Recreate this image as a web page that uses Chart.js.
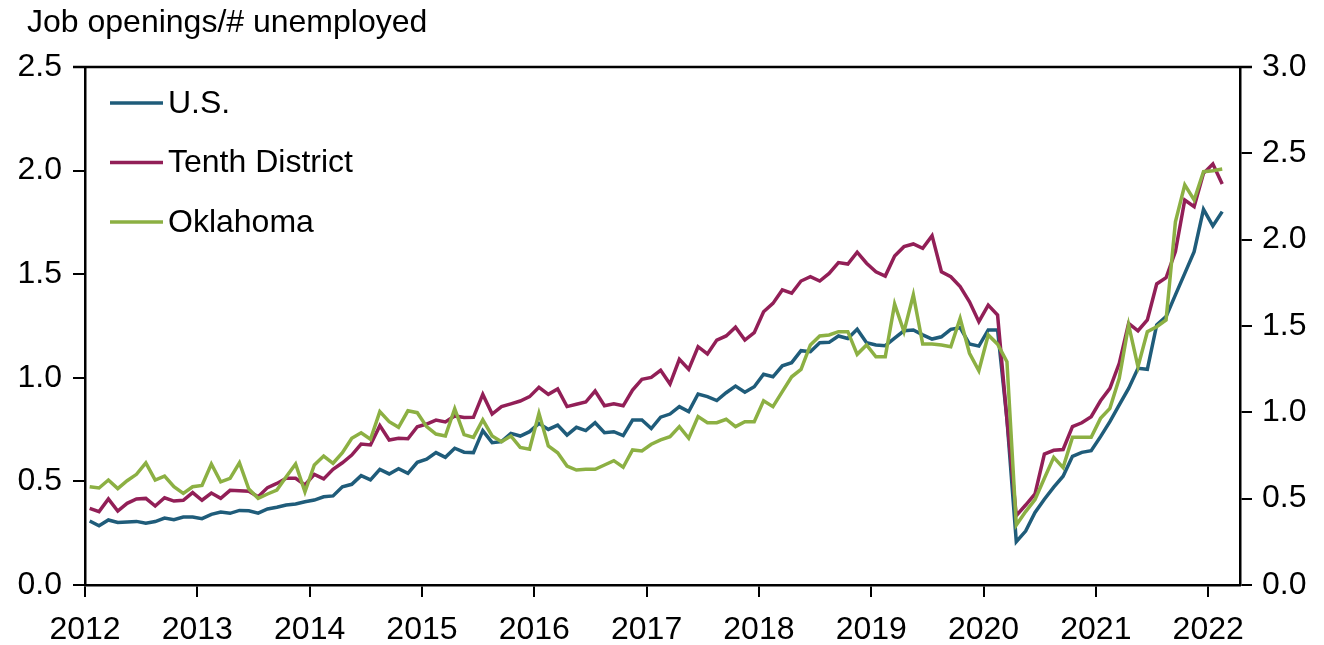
<!DOCTYPE html>
<html>
<head>
<meta charset="utf-8">
<script src="https://cdn.jsdelivr.net/npm/chart.js@4.4.1/dist/chart.umd.min.js"></script>
<style>
  html, body { margin: 0; padding: 0; background: #fff; }
  #wrap { width: 1324px; height: 645px; position: relative; }
</style>
</head>
<body>
<div id="wrap"><canvas id="chart"></canvas></div>
<script>
// ---- data (monthly, Jan 2012 - Feb 2022) ----
const startYear = 2012;
const yearTicks = [2012, 2013, 2014, 2015, 2016, 2017, 2018, 2019, 2020, 2021, 2022];
const leftTicks = [0, 0.5, 1.0, 1.5, 2.0, 2.5];
const rightTicks = [0, 0.5, 1.0, 1.5, 2.0, 2.5, 3.0];
const seriesNames = ['U.S.', 'Tenth District', 'Oklahoma'];

// left axis
const usValues = [
  0.309, 0.286, 0.314, 0.302, 0.304, 0.307, 0.298, 0.306, 0.323, 0.315, 0.328, 0.328,
  0.320, 0.341, 0.352, 0.346, 0.360, 0.358, 0.347, 0.367, 0.375, 0.386, 0.391, 0.402,
  0.410, 0.426, 0.430, 0.474, 0.486, 0.528, 0.507, 0.558, 0.536, 0.561, 0.539, 0.592,
  0.607, 0.639, 0.616, 0.660, 0.641, 0.639, 0.745, 0.687, 0.692, 0.732, 0.719, 0.740,
  0.780, 0.751, 0.772, 0.724, 0.761, 0.745, 0.783, 0.735, 0.740, 0.721, 0.796, 0.796,
  0.755, 0.810, 0.825, 0.861, 0.837, 0.922, 0.909, 0.890, 0.928, 0.960, 0.930, 0.957,
  1.017, 1.005, 1.058, 1.073, 1.131, 1.126, 1.169, 1.171, 1.202, 1.190, 1.234, 1.169,
  1.158, 1.155, 1.191, 1.227, 1.231, 1.207, 1.187, 1.198, 1.234, 1.242, 1.163, 1.153,
  1.231, 1.231, 0.800, 0.209, 0.260, 0.350, 0.414, 0.472, 0.525, 0.621, 0.640, 0.648,
  0.716, 0.788, 0.869, 0.949, 1.046, 1.041, 1.255, 1.295, 1.400, 1.504, 1.609, 1.813,
  1.733, 1.802
];
// left axis
const tenthValues = [
  0.370, 0.354, 0.415, 0.357, 0.394, 0.415, 0.418, 0.381, 0.421, 0.405, 0.409, 0.446,
  0.409, 0.444, 0.418, 0.457, 0.455, 0.453, 0.426, 0.470, 0.490, 0.515, 0.515, 0.483,
  0.534, 0.512, 0.558, 0.590, 0.627, 0.680, 0.676, 0.769, 0.700, 0.708, 0.706, 0.764,
  0.777, 0.796, 0.787, 0.816, 0.808, 0.809, 0.920, 0.825, 0.861, 0.874, 0.888, 0.909,
  0.954, 0.920, 0.946, 0.861, 0.872, 0.883, 0.936, 0.865, 0.874, 0.865, 0.941, 0.993,
  1.002, 1.036, 0.970, 1.089, 1.041, 1.150, 1.115, 1.182, 1.202, 1.244, 1.182, 1.218,
  1.319, 1.359, 1.424, 1.408, 1.467, 1.488, 1.467, 1.504, 1.556, 1.549, 1.606, 1.553,
  1.512, 1.491, 1.588, 1.633, 1.646, 1.625, 1.686, 1.512, 1.488, 1.440, 1.367, 1.271,
  1.351, 1.303, 0.800, 0.335, 0.386, 0.440, 0.632, 0.650, 0.654, 0.764, 0.783, 0.812,
  0.889, 0.949, 1.070, 1.263, 1.227, 1.279, 1.453, 1.483, 1.609, 1.858, 1.826, 1.987,
  2.032, 1.935
];
// right axis
const oklahomaValues = [
  0.569, 0.562, 0.608, 0.558, 0.604, 0.641, 0.707, 0.608, 0.631, 0.569, 0.531, 0.569,
  0.577, 0.701, 0.597, 0.618, 0.708, 0.556, 0.502, 0.527, 0.550, 0.627, 0.701, 0.540,
  0.695, 0.747, 0.705, 0.766, 0.850, 0.882, 0.844, 1.004, 0.946, 0.913, 1.009, 0.998,
  0.917, 0.874, 0.863, 1.021, 0.871, 0.855, 0.956, 0.863, 0.830, 0.863, 0.797, 0.786,
  0.994, 0.805, 0.766, 0.689, 0.666, 0.670, 0.670, 0.695, 0.720, 0.682, 0.782, 0.776,
  0.815, 0.840, 0.859, 0.917, 0.850, 0.975, 0.940, 0.940, 0.960, 0.917, 0.946, 0.946,
  1.067, 1.033, 1.120, 1.206, 1.249, 1.390, 1.442, 1.448, 1.467, 1.467, 1.336, 1.390,
  1.322, 1.322, 1.627, 1.467, 1.680, 1.396, 1.396, 1.390, 1.380, 1.544, 1.342, 1.241,
  1.448, 1.395, 1.293, 0.347, 0.425, 0.495, 0.618, 0.739, 0.680, 0.855, 0.855, 0.855,
  0.965, 1.023, 1.197, 1.506, 1.264, 1.467, 1.496, 1.535, 2.104, 2.317, 2.230, 2.394,
  2.399, 2.409
];

const colors = ['#1f5c7a', '#921f57', '#8cb043'];
const FONT = "'Liberation Sans', Arial, sans-serif";
const FONT_SIZE = 32;

// month index -> x, plotted mid-month
const toPoints = vals => vals.map((v, i) => ({ x: i + 0.5, y: v }));

const frame = {
  id: 'frame',
  afterDraw(chart) {
    const { ctx, chartArea: a } = chart;
    ctx.save();
    // top border of the plot box
    ctx.strokeStyle = '#000';
    ctx.lineWidth = 2.5;
    ctx.beginPath();
    ctx.moveTo(a.left - 12, a.top);
    ctx.lineTo(a.right + 12, a.top);
    ctx.stroke();

    // axis title
    ctx.fillStyle = '#000';
    ctx.font = FONT_SIZE + 'px ' + FONT;
    ctx.textBaseline = 'middle';
    ctx.textAlign = 'left';
    ctx.fillText('Job openings/# unemployed', 27, 23);

    // legend
    seriesNames.forEach((name, k) => {
      const y = 103 + k * 59.5;
      ctx.strokeStyle = colors[k];
      ctx.lineWidth = 3.5;
      ctx.beginPath();
      ctx.moveTo(110, y);
      ctx.lineTo(163, y);
      ctx.stroke();
      ctx.fillText(name, 168, y + 1);
    });
    ctx.restore();
  }
};

const tickFont = { family: FONT, size: FONT_SIZE };

new Chart(document.getElementById('chart'), {
  type: 'line',
  data: {
    datasets: [
      { label: seriesNames[0], data: toPoints(usValues), borderColor: colors[0], yAxisID: 'y', order: 3 },
      { label: seriesNames[1], data: toPoints(tenthValues), borderColor: colors[1], yAxisID: 'y', order: 2 },
      { label: seriesNames[2], data: toPoints(oklahomaValues), borderColor: colors[2], yAxisID: 'y2', order: 1 }
    ]
  },
  options: {
    responsive: true,
    maintainAspectRatio: false,
    animation: false,
    layout: { padding: { top: 67 } },
    elements: {
      line: { borderWidth: 3.5, tension: 0, fill: false },
      point: { radius: 0 }
    },
    plugins: { legend: { display: false }, tooltip: { enabled: false } },
    scales: {
      x: {
        type: 'linear',
        min: 0,
        max: 123.4,
        afterBuildTicks: s => { s.ticks = yearTicks.map(yr => ({ value: (yr - startYear) * 12 })); },
        afterFit: s => { s.height = 60; },
        ticks: {
          color: '#000', font: tickFont, padding: 14, maxRotation: 0, autoSkip: false,
          callback: v => String(startYear + v / 12)
        },
        grid: { display: true, drawOnChartArea: false, drawTicks: true, tickLength: 12, color: '#000', lineWidth: 2 },
        border: { display: true, color: '#000', width: 2.5 }
      },
      y: {
        position: 'left',
        min: 0,
        max: 2.5,
        afterBuildTicks: s => { s.ticks = leftTicks.map(v => ({ value: v })); },
        afterFit: s => { s.width = 85; },
        ticks: { color: '#000', font: tickFont, padding: 11, callback: v => v.toFixed(1) },
        grid: { display: true, drawOnChartArea: false, drawTicks: true, tickLength: 12, color: '#000', lineWidth: 2 },
        border: { display: true, color: '#000', width: 2.5 }
      },
      y2: {
        position: 'right',
        min: 0,
        max: 3,
        afterBuildTicks: s => { s.ticks = rightTicks.map(v => ({ value: v })); },
        afterFit: s => { s.width = 84; },
        ticks: { color: '#000', font: tickFont, padding: 10, callback: v => v.toFixed(1) },
        grid: { display: true, drawOnChartArea: false, drawTicks: true, tickLength: 12, color: '#000', lineWidth: 2 },
        border: { display: true, color: '#000', width: 2.5 }
      }
    }
  },
  plugins: [frame]
});
</script>
</body>
</html>
